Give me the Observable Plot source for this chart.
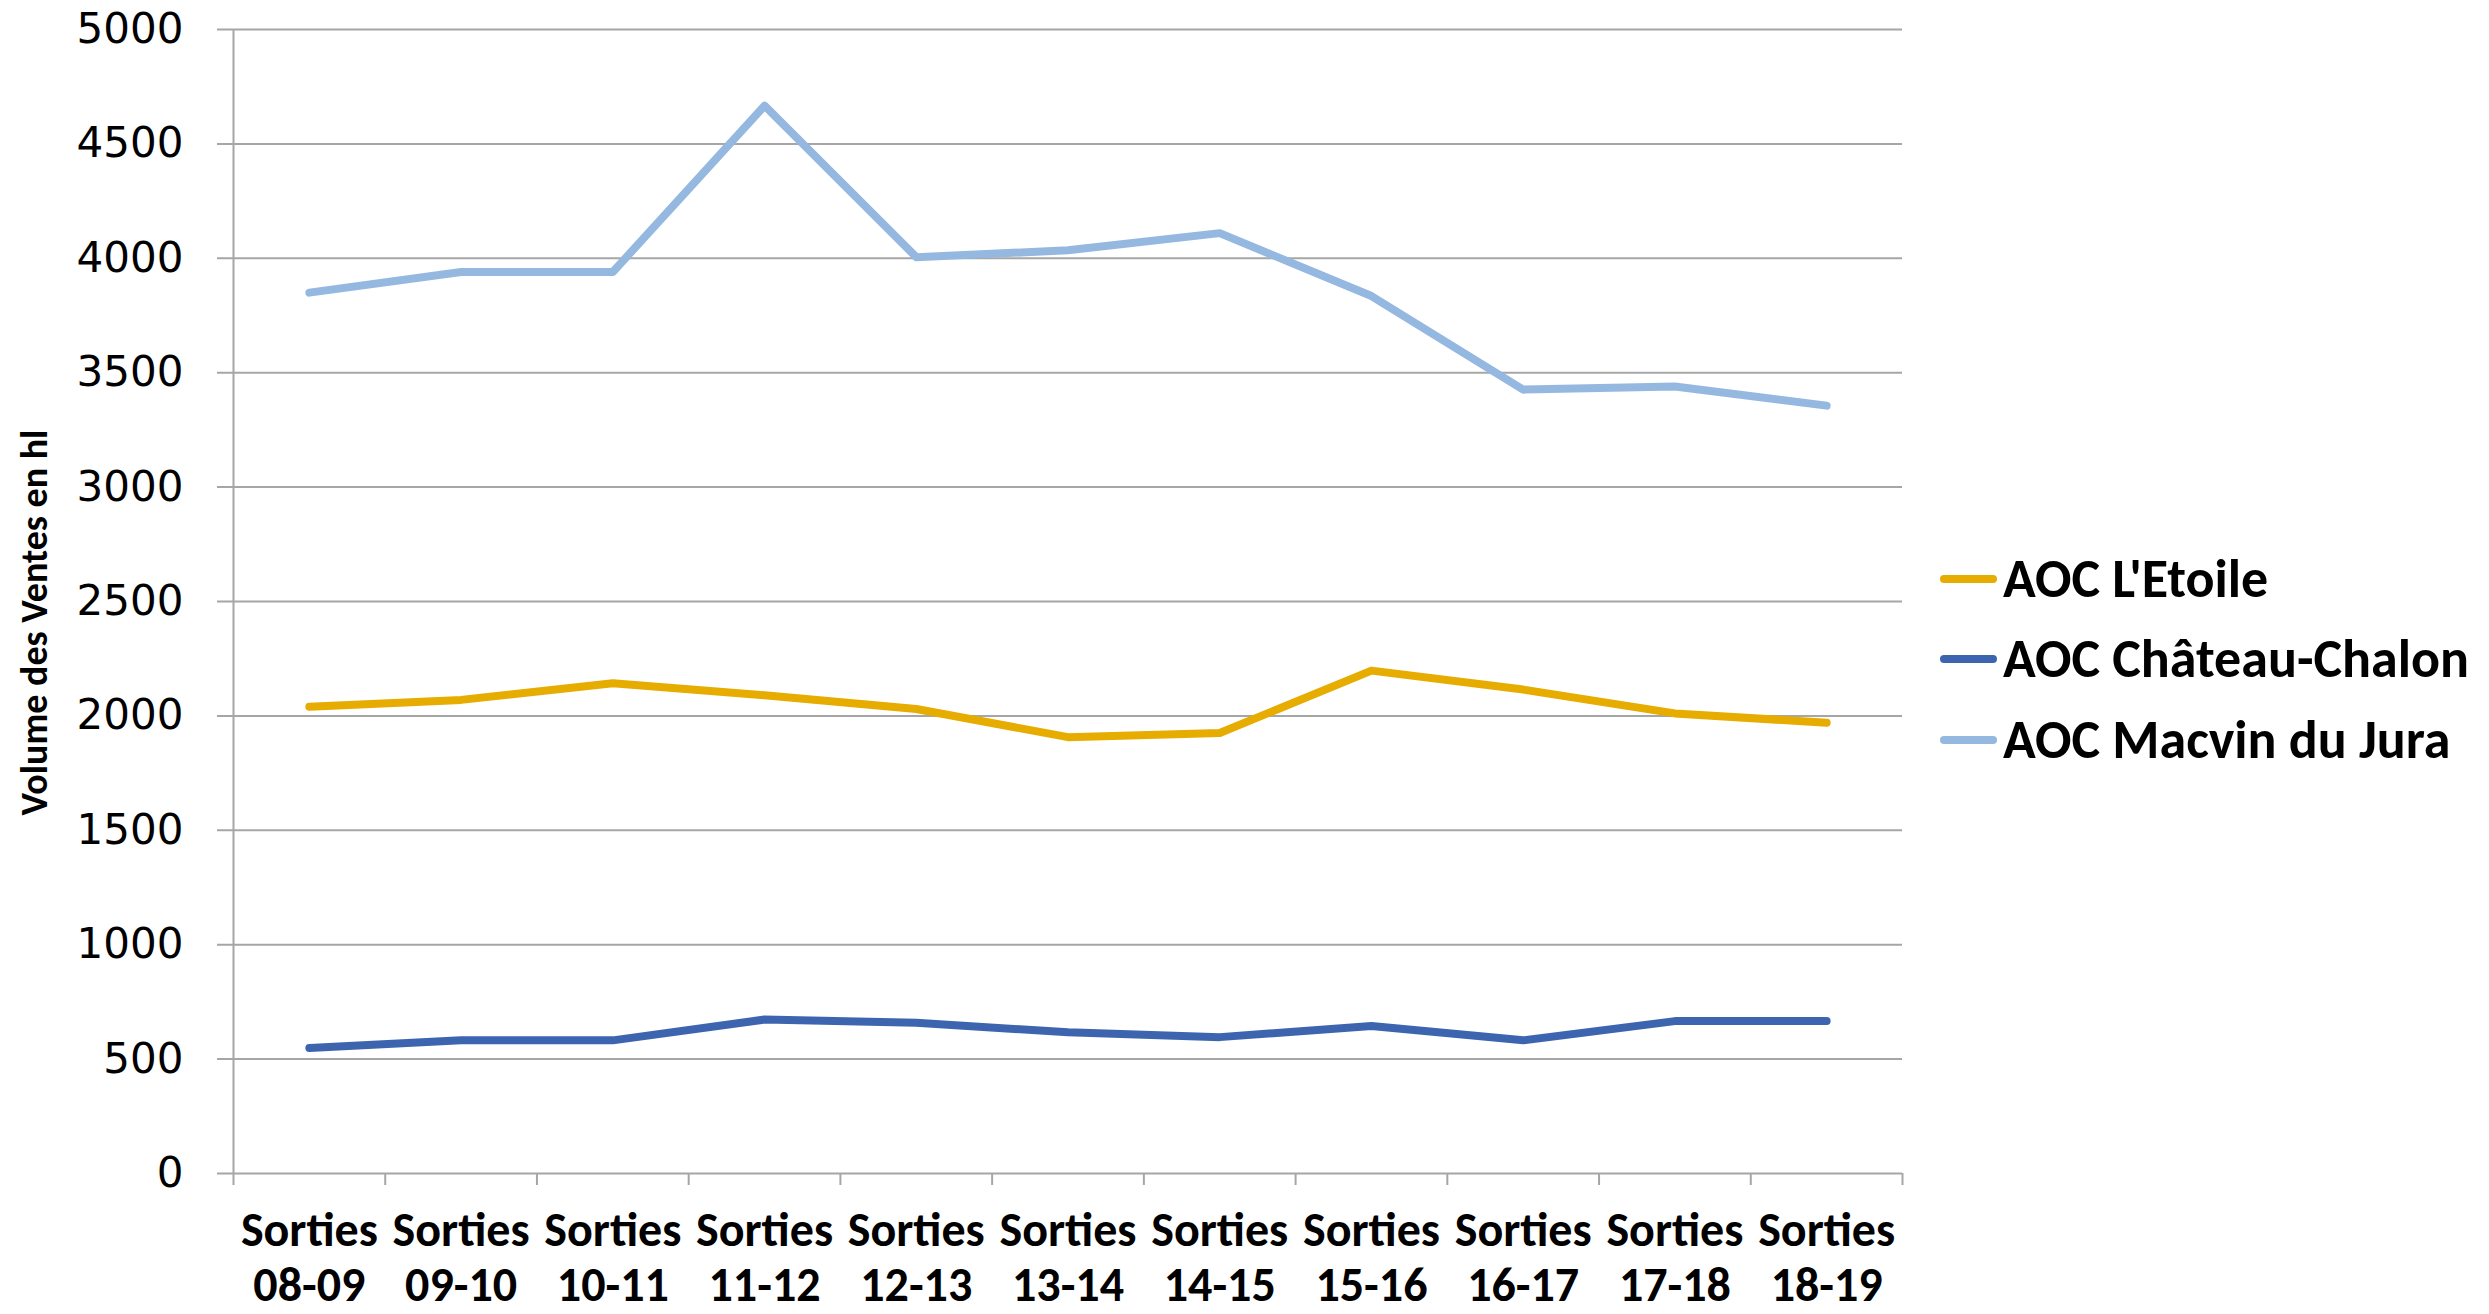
<!DOCTYPE html>
<html><head><meta charset="utf-8">
<script src="https://cdn.jsdelivr.net/npm/d3@7"></script>
<script src="https://cdn.jsdelivr.net/npm/@observablehq/plot@0.6"></script>
<style>
body{margin:0;background:#fff;}
#wrap{position:relative;width:2489px;height:1314px;overflow:hidden;background:#fff;}
#legend{position:absolute;left:1940px;top:0;font-family:Carlito,"Liberation Sans Narrow","Arial Narrow","Open Sans",sans-serif;font-weight:bold;font-size:54px;color:#000;}
.item{position:absolute;left:0;display:flex;align-items:center;height:80px;white-space:nowrap;}
.sw{width:57px;height:8px;border-radius:4px;margin-right:6px;flex:none;}
</style></head>
<body><div id="wrap"></div>
<script>
const categories = ["08-09","09-10","10-11","11-12","12-13","13-14","14-15","15-16","16-17","17-18","18-19"];
const categoryPrefix = "Sorties";
const etoile = [2040, 2070, 2143, 2090, 2030, 1907, 1925, 2198, 2115, 2011, 1970];
const chalon = [548, 582, 582, 673, 659, 617, 596, 645, 582, 666, 666];
const macvin = [3850, 3940, 3940, 4667, 4005, 4035, 4110, 3835, 3426, 3440, 3356];
const seriesNames = ["AOC L'Etoile", "AOC Château-Chalon", "AOC Macvin du Jura"];
const seriesColors = ["#E6AC00", "#3D65AF", "#95B8E0"];
const yTicks = [0, 500, 1000, 1500, 2000, 2500, 3000, 3500, 4000, 4500, 5000];
const yTitle = "Volume des Ventes en hl";

const seriesValues = [etoile, chalon, macvin];
const rows = [];
seriesNames.forEach((name, s) => seriesValues[s].forEach((v, i) => rows.push({series: name, pos: i + 0.5, value: v})));
const boundaries = d3.range(categories.length + 1);
const narrow = 'Carlito, "Liberation Sans Narrow", "Arial Narrow", "Open Sans", sans-serif';
const grid = "#A6A6A6";

const plot = Plot.plot({
  width: 2489, height: 1314,
  marginLeft: 233, marginRight: 587, marginTop: 29, marginBottom: 141,
  x: {domain: [0, categories.length], axis: null},
  y: {domain: [0, 5000], axis: null},
  color: {domain: seriesNames, range: seriesColors},
  style: {background: "white"},
  marks: [
    Plot.ruleY(yTicks, {stroke: grid, strokeWidth: 2, insetLeft: -16}),
    Plot.ruleX([0], {y1: 0, y2: 5000, stroke: grid, strokeWidth: 2}),
    Plot.ruleX(boundaries, {y1: 0, y2: 0, insetBottom: -12, stroke: grid, strokeWidth: 2}),
    Plot.text(yTicks, {y: d => d, text: d => String(d), frameAnchor: "left", textAnchor: "end", dx: -50, fontSize: 42, fontFamily: "DejaVu Sans", fill: "#000"}),
    Plot.text(categories, {x: (d, i) => i + 0.5, text: () => categoryPrefix, frameAnchor: "bottom", dy: 72, fontSize: 48, fontWeight: "bold", fontFamily: narrow, fill: "#000"}),
    Plot.text(categories, {x: (d, i) => i + 0.5, text: d => d, frameAnchor: "bottom", dy: 127, fontSize: 48, fontWeight: "bold", fontFamily: narrow, fill: "#000"}),
    Plot.text([yTitle], {text: d => d, frameAnchor: "left", textAnchor: "middle", dx: -199, dy: 21, rotate: -90, fontSize: 38, fontWeight: "bold", fontFamily: narrow, fill: "#000"}),
    Plot.line(rows, {x: "pos", y: "value", z: "series", stroke: "series", strokeWidth: 8, strokeLinecap: "round", strokeLinejoin: "round"})
  ]
});
const wrap = document.getElementById("wrap");
wrap.appendChild(plot);

const legend = document.createElement("div");
legend.id = "legend";
const legendCenters = [579, 659, 740];
seriesNames.forEach((name, i) => {
  const item = document.createElement("div");
  item.className = "item";
  item.style.top = (legendCenters[i] - 40) + "px";
  const sw = document.createElement("div");
  sw.className = "sw";
  sw.style.background = seriesColors[i];
  const tx = document.createElement("span");
  tx.textContent = name;
  item.appendChild(sw);
  item.appendChild(tx);
  legend.appendChild(item);
});
wrap.appendChild(legend);
</script>
</body></html>
